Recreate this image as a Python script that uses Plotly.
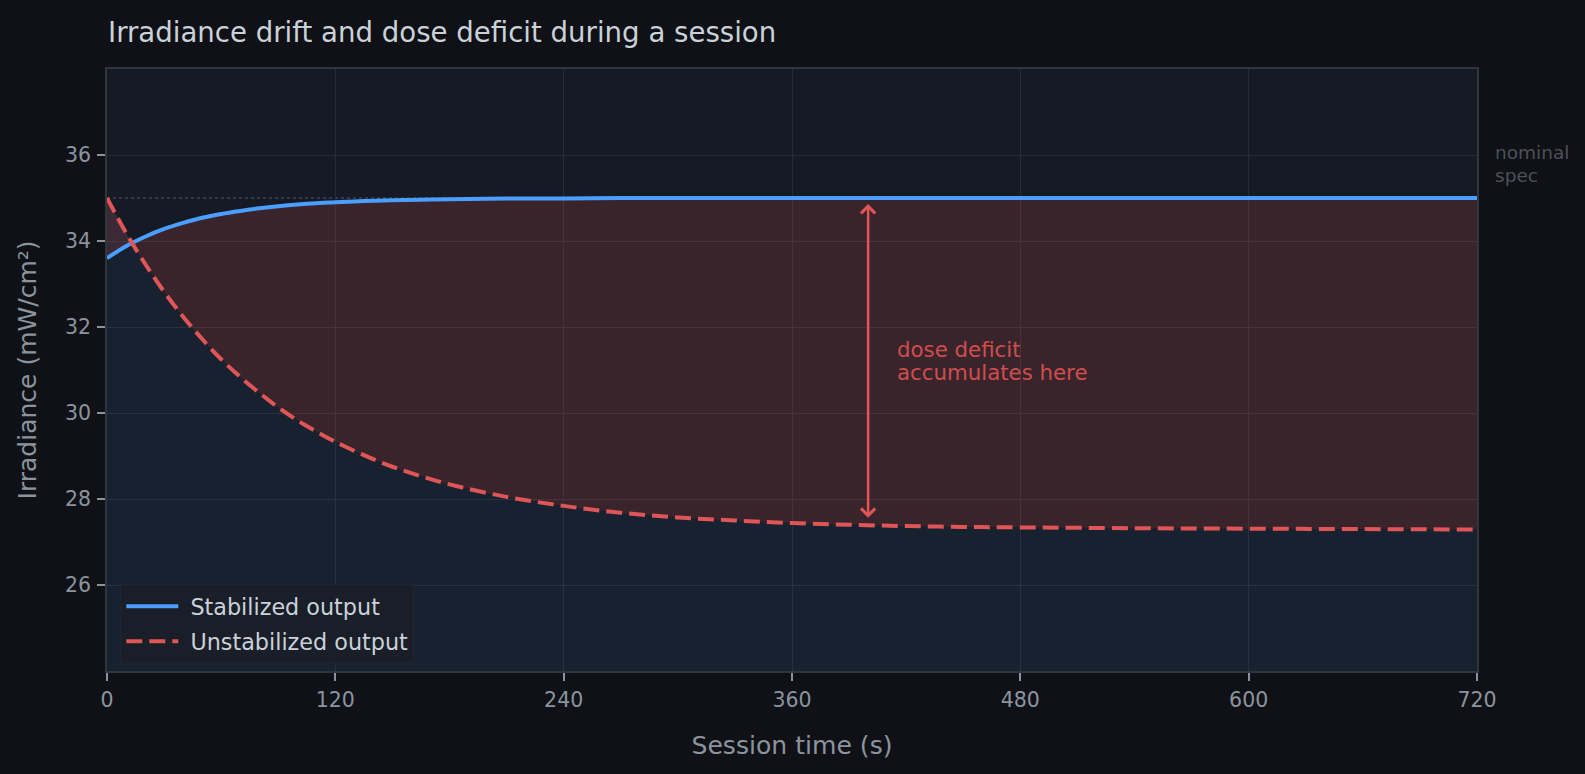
import plotly.graph_objects as go

# Session time (s)
t = [0, 10, 20, 30, 40, 50, 60, 70, 80, 90, 100, 110, 120, 135, 150, 165, 180,
     210, 240, 270, 300, 330, 360, 390, 420, 450, 480, 540, 600, 660, 720]
# Stabilized output (mW/cm²)
stabilized = [33.60, 33.88, 34.10, 34.28, 34.42, 34.54, 34.63, 34.70, 34.76, 34.81,
              34.85, 34.88, 34.90, 34.93, 34.95, 34.96, 34.97, 34.99, 34.99, 35.0,
              35.0, 35.0, 35.0, 35.0, 35.0, 35.0, 35.0, 35.0, 35.0, 35.0, 35.0]
# Unstabilized output (mW/cm²)
unstabilized = [35.00, 34.19, 33.47, 32.82, 32.24, 31.72, 31.25, 30.84, 30.47, 30.13,
                29.83, 29.57, 29.33, 29.02, 28.75, 28.53, 28.34, 28.05, 27.84, 27.68,
                27.57, 27.50, 27.44, 27.40, 27.37, 27.35, 27.34, 27.32, 27.31, 27.30, 27.29]

nominal = 35.0
x_ticks = [0, 120, 240, 360, 480, 600, 720]
y_ticks = [26, 28, 30, 32, 34, 36]
arrow_t = 400
arrow_top = 34.86
arrow_bottom = 27.53

BLUE = "#4a9eff"
RED = "#e05555"
FONT = "DejaVu Sans"
NB = "\u00a0"

fig = go.Figure()
# blue fill under unstabilized curve
fig.add_trace(go.Scatter(x=t, y=unstabilized, mode="lines", line=dict(width=0, shape="spline"),
                         fill="tozeroy", fillcolor="rgba(74,158,255,0.06)",
                         showlegend=False, hoverinfo="skip"))
# red fill between curves
fig.add_trace(go.Scatter(x=t, y=stabilized, mode="lines", line=dict(width=0, shape="spline"),
                         showlegend=False, hoverinfo="skip"))
fig.add_trace(go.Scatter(x=t, y=unstabilized, mode="lines", line=dict(width=0, shape="spline"),
                         fill="tonexty", fillcolor="rgba(224,85,85,0.18)",
                         showlegend=False, hoverinfo="skip"))
# lines
fig.add_trace(go.Scatter(x=t, y=stabilized, mode="lines", name=NB + "Stabilized output",
                         legendgroup="a", legendrank=1,
                         line=dict(color=BLUE, width=4, shape="spline")))
fig.add_trace(go.Scatter(x=t, y=unstabilized, mode="lines", name=NB + "Unstabilized output",
                         legendgroup="b", legendrank=2,
                         line=dict(color=RED, width=4, dash="16px,7px", shape="spline")))

fig.add_shape(type="line", x0=0, x1=720, y0=nominal, y1=nominal, xref="x", yref="y",
              line=dict(color="#555a63", width=1.2, dash="dot"), layer="below")

fig.add_annotation(x=arrow_t, y=arrow_top, ax=arrow_t, ay=arrow_bottom, xref="x", yref="y",
                   axref="x", ayref="y", text="", showarrow=True,
                   arrowhead=4, startarrowhead=4, arrowside="end+start",
                   arrowsize=1.1, startarrowsize=1.1, arrowwidth=2.5, arrowcolor=RED)
for txt, yy in [("dose deficit", 31.48), ("accumulates here", 30.94)]:
    fig.add_annotation(x=414, y=yy, xref="x", yref="y", text=txt,
                       showarrow=False, xanchor="left", yanchor="middle", align="left",
                       font=dict(family=FONT, size=21.3, color="#cf4d4d"))
for txt, yy in [("nominal", 36.05), ("spec", 35.53)]:
    fig.add_annotation(x=1.0119, y=yy, xref="paper", yref="y", text=txt,
                       showarrow=False, xanchor="left", yanchor="middle", align="left",
                       font=dict(family=FONT, size=18.5, color="#4b5059"))

fig.update_layout(
    width=1585, height=774,
    paper_bgcolor="#0f1116", plot_bgcolor="#161a24",
    margin=dict(l=107, r=108, t=69, b=103),
    title=dict(text="Irradiance drift and dose deficit during a session",
               x=108/1585, xanchor="left", y=1 - 32/774, yanchor="middle",
               font=dict(family=FONT, size=27.6, color="#c9d1d9")),
    font=dict(family=FONT, color="#8b949e"),
    legend=dict(x=0.0097, y=0.0128, xanchor="left", yanchor="bottom",
                bgcolor="#1a1e28", bordercolor="#20242d", borderwidth=1,
                font=dict(family=FONT, size=22.3, color="#c9d1d9"),
                traceorder="grouped", tracegroupgap=3, itemwidth=52),
    showlegend=True,
)
fig.update_xaxes(range=[0, 720], tickvals=x_ticks, ticks="outside", ticklen=8, tickwidth=2,
                 tickcolor="#8b949e", tickfont=dict(family=FONT, size=20.5, color="#8b949e"),
                 ticklabelstandoff=2,
                 showgrid=True, gridcolor="#262b35", gridwidth=1.2, zeroline=False,
                 showline=True, linecolor="#30363d", linewidth=1.5, mirror=True,
                 title=dict(text="Session time (s)", font=dict(family=FONT, size=25.1, color="#8b949e"),
                            standoff=25))
fig.update_yaxes(range=[24, 38], tickvals=y_ticks, ticks="outside", ticklen=8, tickwidth=2,
                 tickcolor="#8b949e", tickfont=dict(family=FONT, size=20.5, color="#8b949e"),
                 ticklabelstandoff=2,
                 showgrid=True, gridcolor="#262b35", gridwidth=1.2, zeroline=False,
                 showline=True, linecolor="#30363d", linewidth=1.5, mirror=True,
                 title=dict(text="Irradiance (mW/cm²)", font=dict(family=FONT, size=25, color="#8b949e"),
                            standoff=21))

fig.write_html("out.html", config={"displayModeBar": False},
               post_script="document.body.style.margin='0';document.body.style.overflow='hidden';"
                           "document.body.style.background='#0f1116';")
